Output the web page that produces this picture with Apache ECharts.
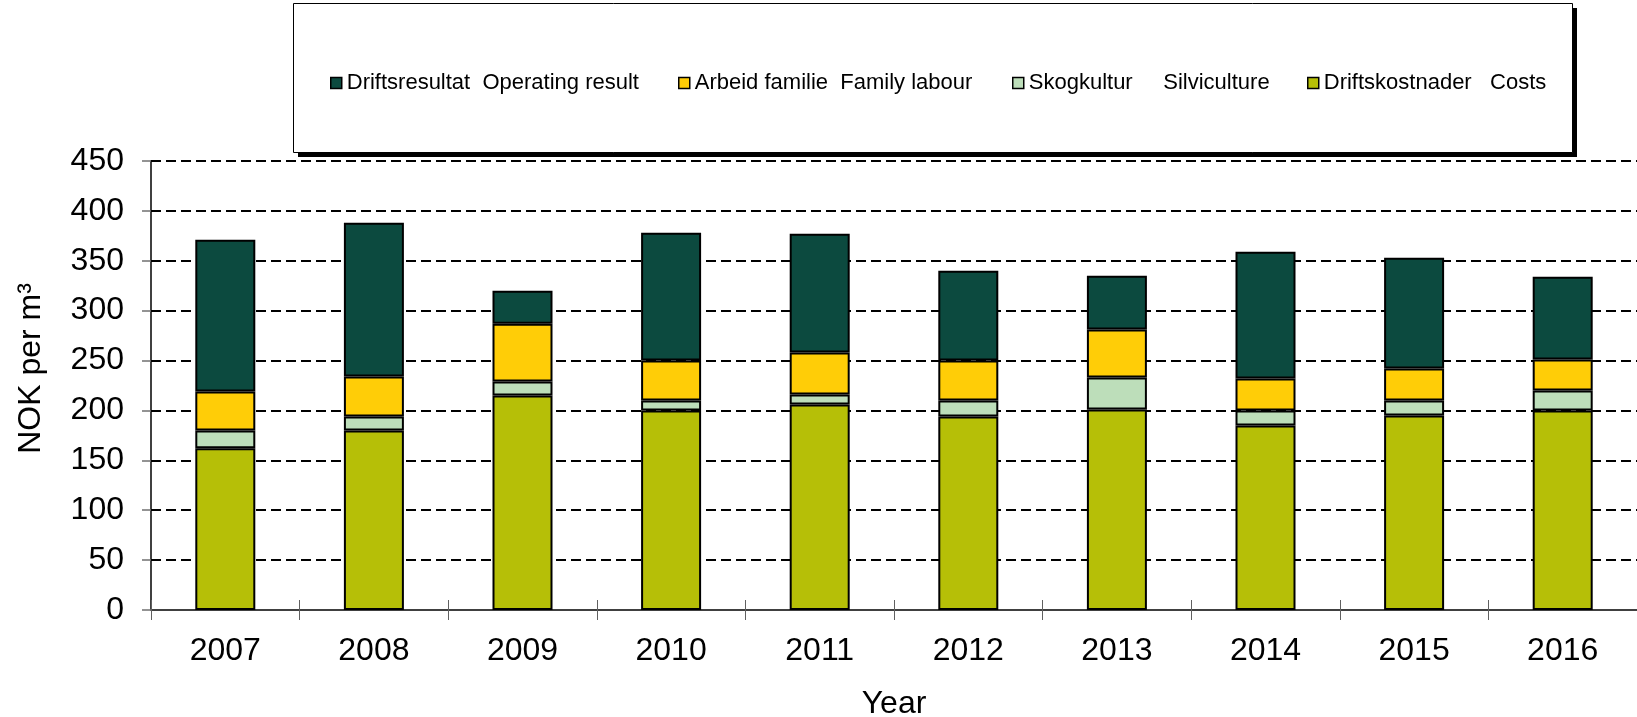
<!DOCTYPE html>
<html>
<head>
<meta charset="utf-8">
<script src="https://cdn.jsdelivr.net/npm/echarts@6/dist/echarts.min.js"></script>
<style>
html,body{margin:0;padding:0;background:#fff;}
#chart{width:1637px;height:717px;}
</style>
</head>
<body>
<div id="chart"></div>
<script>
// ---- data ----
const years = ['2007','2008','2009','2010','2011','2012','2013','2014','2015','2016'];
const costs = [162,180,215,200,206,194,201,185,195,200];
const silviculture = [18,14,14,10,10,16,32,15,15,20];
const familyLabour = [39,40,58,40,42,40,48,32,32,31];
const operatingResult = [152,154,33,128,119,90,54,127,111,83];
const seriesNames = [
  'Driftskostnader   Costs',
  'Skogkultur     Silviculture',
  'Arbeid familie  Family labour',
  'Driftsresultat  Operating result'
];
const legendOrder = [3,2,1,0];
const yAxisTitle = 'NOK per m³';
const xAxisTitle = 'Year';

// ---- styles / layout ----
const colors = ['#B6BF07','#BDDEBA','#FFCD07','#0C4A3F'];
const legendLefts = [325, 673, 1007, 1302];
const FONT = '"Liberation Sans", Arial, sans-serif';

const chart = echarts.init(document.getElementById('chart'), null, {renderer:'canvas'});
const values = [costs, silviculture, familyLabour, operatingResult];

const option = {
  animation: false,
  textStyle: {fontFamily: FONT},
  graphic: [
    {type:'rect', z:0, shape:{x:298, y:8, width:1279, height:149}, style:{fill:'#000'}},
    {type:'rect', z:1, shape:{x:293.5, y:3.5, width:1279, height:149}, style:{fill:'#fff', stroke:'#000', lineWidth:1}}
  ],
  legend: legendOrder.map((si, i) => ({
    data: [seriesNames[si]],
    left: legendLefts[i],
    top: 67,
    z: 10,
    selectedMode: false,
    icon: 'rect',
    itemWidth: 11,
    itemHeight: 11,
    itemStyle: {borderColor:'#000', borderWidth:1.5},
    textStyle: {fontSize:22, color:'#000', fontFamily: FONT}
  })),
  grid: {left:151, right:0, top:161, bottom:107, containLabel:false, outerBoundsMode:'none'},
  xAxis: [
    {
      type:'category', data: years, position:'bottom',
      name: xAxisTitle, nameLocation:'middle', nameGap:78,
      nameTextStyle:{fontSize:32, color:'#000', fontFamily: FONT},
      axisLine:{show:true, lineStyle:{color:'#404040', width:2}},
      axisTick:{show:true, alignWithLabel:false, inside:false, length:10, lineStyle:{color:'#606060', width:1}},
      axisLabel:{fontSize:32, color:'#000', margin:25, fontFamily: FONT},
      splitLine:{show:false}
    },
    {
      type:'category', data: years, position:'bottom',
      axisLine:{show:false},
      axisTick:{show:true, alignWithLabel:false, inside:true, length:10, lineStyle:{color:'#606060', width:1}},
      axisLabel:{show:false},
      splitLine:{show:false}
    }
  ],
  yAxis: {
    type:'value', min:0, max:450, interval:50,
    name: yAxisTitle, nameLocation:'middle', nameGap:104, nameRotate:90,
    nameTextStyle:{fontSize:32, color:'#000', fontFamily: FONT, padding:[0,0,0,34]},
    axisLine:{show:true, lineStyle:{color:'#000', width:1.5}},
    axisTick:{show:true, inside:false, length:9, lineStyle:{color:'#707070', width:1.5}},
    axisLabel:{fontSize:32, color:'#000', margin:27, fontFamily: FONT},
    splitLine:{show:true, lineStyle:{color:'#000', width:2, type:[10,5]}}
  },
  series: values.map((v, i) => ({
    name: seriesNames[i],
    type:'bar',
    stack:'total',
    xAxisIndex:0,
    data: v,
    barWidth: 60,
    itemStyle:{color: colors[i], borderColor:'#000', borderWidth:2}
  }))
};
chart.setOption(option);
</script>
</body>
</html>
